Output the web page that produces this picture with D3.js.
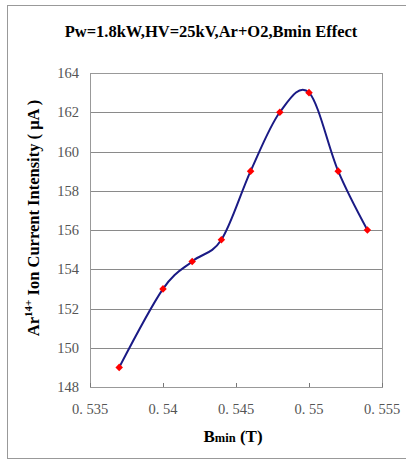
<!DOCTYPE html>
<html>
<head>
<meta charset="utf-8">
<script src="https://cdn.jsdelivr.net/npm/d3@7"></script>
<style>
  body { margin: 0; background: #fff; }
  svg { display: block; }
</style>
</head>
<body>
<div id="chart"></div>
<script>
const width = 406;
const height = 461;

// data
const bmin = [0.537, 0.540, 0.542, 0.544, 0.546, 0.548, 0.550, 0.552, 0.554];
const current = [149, 153, 154.4, 155.5, 159, 162, 163, 159, 156];
const yTicks = [148, 150, 152, 154, 156, 158, 160, 162, 164];
const xTicks = [0.535, 0.54, 0.545, 0.55, 0.555];
const xTickLabels = ["0. 535", "0. 54", "0. 545", "0. 55", "0. 555"];

const margin = { top: 73, right: 24, bottom: 74, left: 90 };

const svg = d3.select("#chart")
  .append("svg")
  .attr("width", width)
  .attr("height", height);

// outer frame
svg.append("rect")
  .attr("x", 7.5).attr("y", 5.5)
  .attr("width", width + 10).attr("height", 453)
  .attr("fill", "none")
  .attr("stroke", "#999");

const x = d3.scaleLinear()
  .domain([0.535, 0.555])
  .range([margin.left, width - margin.right]);

const y = d3.scaleLinear()
  .domain([148, 164])
  .range([height - margin.bottom, margin.top]);

// horizontal gridlines
svg.append("g")
  .selectAll("line")
  .data(yTicks)
  .join("line")
  .attr("x1", x(0.535)).attr("x2", x(0.555))
  .attr("y1", d => Math.round(y(d)) + 0.5)
  .attr("y2", d => Math.round(y(d)) + 0.5)
  .attr("stroke", "#8a8a8a");

// plot border
svg.append("rect")
  .attr("x", x(0.535) + 0.5)
  .attr("y", Math.round(y(164)) + 0.5)
  .attr("width", x(0.555) - x(0.535))
  .attr("height", Math.round(y(148)) - Math.round(y(164)))
  .attr("fill", "none")
  .attr("stroke", "#999");

// y axis labels
svg.append("g")
  .selectAll("text")
  .data(yTicks)
  .join("text")
  .attr("x", 79)
  .attr("y", d => y(d) + 5)
  .attr("text-anchor", "end")
  .attr("font-family", "Liberation Serif, serif")
  .attr("font-size", 14.5)
  .attr("fill", "#555")
  .text(d => d);

// x ticks (inside) and labels
const xg = svg.append("g");
xg.selectAll("line")
  .data(xTicks)
  .join("line")
  .attr("x1", d => Math.round(x(d)) + 0.5)
  .attr("x2", d => Math.round(x(d)) + 0.5)
  .attr("y1", y(148))
  .attr("y2", y(148) - 4)
  .attr("stroke", "#777");

xg.selectAll("text")
  .data(xTicks)
  .join("text")
  .attr("x", d => x(d))
  .attr("y", 414)
  .attr("text-anchor", "middle")
  .attr("font-family", "Liberation Serif, serif")
  .attr("font-size", 14.5)
  .attr("fill", "#555")
  .text((d, i) => xTickLabels[i]);

// smooth line like Excel
const line = d3.line()
  .x((d, i) => x(bmin[i]))
  .y(d => y(d))
  .curve(d3.curveCardinal.tension(0));

svg.append("path")
  .datum(current)
  .attr("d", line)
  .attr("fill", "none")
  .attr("stroke", "#1a1a85")
  .attr("stroke-width", 2);

// diamond markers
svg.append("g")
  .selectAll("path")
  .data(current)
  .join("path")
  .attr("d", d3.symbol().type(d3.symbolDiamond2).size(36))
  .attr("transform", (d, i) => `translate(${x(bmin[i])},${y(d)})`)
  .attr("fill", "#ff0000");

// title
svg.append("text")
  .attr("x", 211)
  .attr("y", 37)
  .attr("text-anchor", "middle")
  .attr("font-family", "Liberation Serif, serif")
  .attr("font-weight", "bold")
  .attr("font-size", 16.5)
  .text("Pw=1.8kW,HV=25kV,Ar+O2,Bmin Effect");

// x axis title
const xt = svg.append("text")
  .attr("x", 233)
  .attr("y", 442)
  .attr("text-anchor", "middle")
  .attr("font-family", "Liberation Serif, serif")
  .attr("font-weight", "bold")
  .attr("font-size", 17);
xt.append("tspan").text("B");
xt.append("tspan").attr("font-size", 12.5).text("min");
xt.append("tspan").text(" (T)");

// y axis title
const yt = svg.append("text")
  .attr("transform", "translate(39,218) rotate(-90)")
  .attr("text-anchor", "middle")
  .attr("font-family", "Liberation Serif, serif")
  .attr("font-weight", "bold")
  .attr("font-size", 16.5);
yt.append("tspan").text("Ar");
yt.append("tspan").attr("font-size", 11).attr("dy", -7).text("14+");
yt.append("tspan").attr("dy", 7).text(" Ion Current Intensity ( \u03bcA )");
</script>
</body>
</html>
